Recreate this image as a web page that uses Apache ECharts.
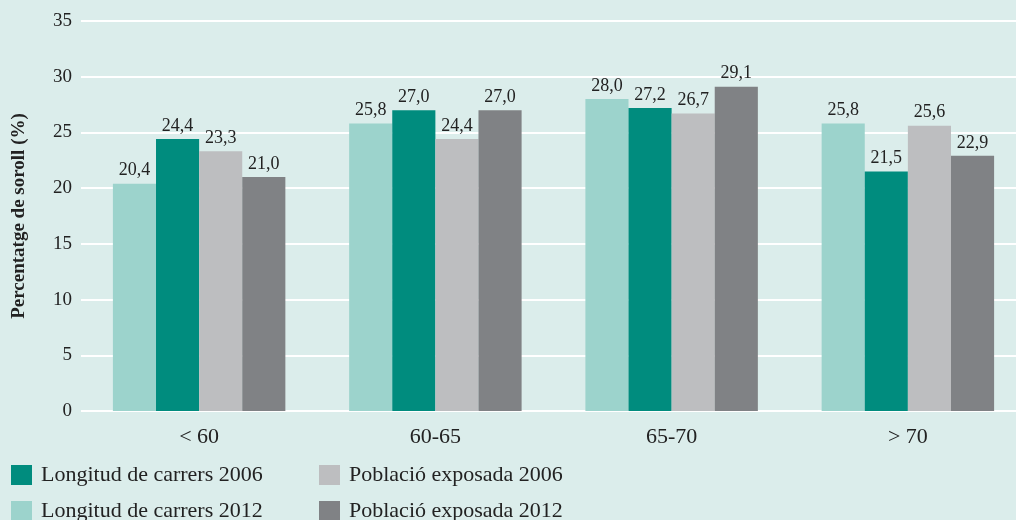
<!DOCTYPE html>
<html><head><meta charset="utf-8">
<script src="https://cdn.jsdelivr.net/npm/echarts@6/dist/echarts.min.js"></script>
<style>html,body{margin:0;padding:0;background:#dbedeb;}#c{width:1016px;height:520px;}</style>
</head><body><div id="c"></div>
<script>
const categories = ['< 60', '60-65', '65-70', '> 70'];
const longitud2012 = [20.4, 25.8, 28.0, 25.8];
const longitud2006 = [24.4, 27.0, 27.2, 21.5];
const poblacio2006 = [23.3, 24.4, 26.7, 25.6];
const poblacio2012 = [21.0, 27.0, 29.1, 22.9];
const yTicks = [0, 5, 10, 15, 20, 25, 30, 35];

const FONT = '"Liberation Serif", "DejaVu Serif", serif';
const chart = echarts.init(document.getElementById('c'));
const fmt = p => p.value.toFixed(1).replace('.', ',');
function bar(name, data, color) {
  return {
    name, type: 'bar', data, barGap: 0, barCategoryGap: '27%',
    itemStyle: { color },
    label: { show: true, position: 'top', distance: 4, formatter: fmt,
      fontFamily: FONT, fontSize: 18, color: '#222' }
  };
}
function leg(name, left, top) {
  return { orient: 'horizontal', left, top, itemWidth: 21, itemHeight: 20,
    icon: 'rect', data: [name], padding: 0,
    textStyle: { fontFamily: FONT, fontSize: 22, color: '#222', padding: [0, 0, 0, 4] } };
}
chart.setOption({
  backgroundColor: '#dbedeb',
  animation: false,
  textStyle: { fontFamily: FONT },
  grid: { left: 81, top: 21, width: 945, height: 390, outerBoundsMode: 'none', containLabel: false },
  xAxis: {
    type: 'category', data: categories,
    axisLine: { show: false }, axisTick: { show: false },
    axisLabel: { fontFamily: FONT, fontSize: 22, color: '#222', margin: 15 }
  },
  yAxis: {
    type: 'value', min: yTicks[0], max: yTicks[yTicks.length - 1], interval: 5,
    name: 'Percentatge de soroll (%)', nameLocation: 'middle', nameGap: 52,
    nameTextStyle: { fontFamily: FONT, fontSize: 19, fontWeight: 'bold', color: '#222' },
    axisLine: { show: false }, axisTick: { show: false },
    axisLabel: { fontFamily: FONT, fontSize: 19, color: '#222', margin: 9 },
    splitLine: { lineStyle: { color: '#ffffff', width: 2 } }
  },
  legend: [
    leg('Longitud de carrers 2006', 11, 464),
    leg('Longitud de carrers 2012', 11, 500),
    leg('Població exposada 2006', 319, 464),
    leg('Població exposada 2012', 319, 500)
  ],
  series: [
    bar('Longitud de carrers 2012', longitud2012, '#9cd3cc'),
    bar('Longitud de carrers 2006', longitud2006, '#008c7e'),
    bar('Població exposada 2006', poblacio2006, '#bdbec0'),
    bar('Població exposada 2012', poblacio2012, '#808285')
  ]
});
</script></body></html>
